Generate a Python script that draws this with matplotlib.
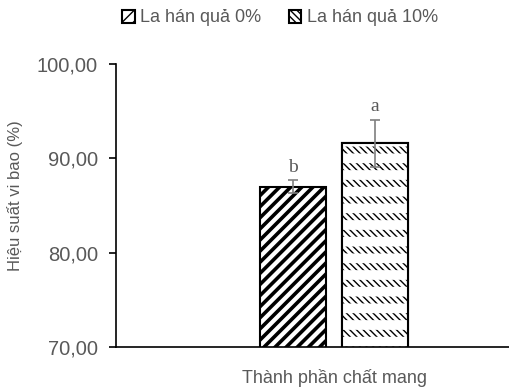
import matplotlib.pyplot as plt
import numpy as np

plt.rcParams['font.family'] = ['Liberation Sans', 'DejaVu Sans']

## du lieu
nhom = ['Thành phần chất mang']
ten = ['La hán quả 0%', 'La hán quả 10%']
gia_tri = [87.0, 91.6]
sai_so = [0.7, 2.5]
chu = ['b', 'a']

xam = '#595959'
hatch_ls = ['///', '\\\\\\\\\\']

fig = plt.figure(figsize=(5.09, 3.92), dpi=100)
ax = fig.add_axes([0.228, 0.115, 0.772, 0.722])

w = 0.33
lech = [-0.204, 0.204]
for i in range(2):
    x = 0 + lech[i]
    b = ax.bar(x, gia_tri[i], width=w, color='white', edgecolor='black',
               linewidth=1.5, hatch=hatch_ls[i], label=ten[i])
    for p in b:
        if hasattr(p, 'set_hatch_linewidth'):
            p.set_hatch_linewidth(2.6 if i == 0 else 1.0)
    if i == 1:
        # cat gach cheo thanh tung hang ngan
        b2 = ax.bar(x, gia_tri[i], width=w, color='none', edgecolor='white',
                    linewidth=0, hatch='-')
        for p in b2:
            if hasattr(p, 'set_hatch_linewidth'):
                p.set_hatch_linewidth(7)
        ax.bar(x, gia_tri[i], width=w, fill=False, edgecolor='black', linewidth=1.5)
    ax.errorbar(x, gia_tri[i], yerr=sai_so[i], fmt='none',
                ecolor='#7f7f7f', elinewidth=1.2, capsize=3.5, capthick=1.2)
    ax.annotate(chu[i], (x, gia_tri[i] + sai_so[i]), xytext=(0, 3),
                textcoords='offset points', ha='center', va='bottom',
                fontsize=14, color=xam, family=['Liberation Serif', 'DejaVu Serif'])

ax.set_ylim(70, 100)
ax.set_xlim(-1.089, 0.876)
ax.set_yticks([70, 80, 90, 100])
ax.set_yticklabels(['70,00', '80,00', '90,00', '100,00'])
ax.tick_params(axis='y', labelsize=14.5, labelcolor=xam, length=5, width=1.2,
               direction='out', pad=8)
ax.set_xticks([])
for s in ['top', 'right']:
    ax.spines[s].set_visible(False)
ax.spines['left'].set_linewidth(1.2)
ax.spines['bottom'].set_linewidth(1.2)

ax.set_ylabel('Hiệu suất vi bao (%)', fontsize=12, color=xam)
ax.yaxis.set_label_coords(-93 / 393, 0.535)
ax.set_xlabel(nhom[0], fontsize=13, color=xam)
ax.xaxis.set_label_coords((334 - 116) / 393, -22 / 283)

leg = fig.legend(loc='center', bbox_to_anchor=(280 / 509, 1 - 18 / 392), ncol=2,
                 frameon=False, fontsize=13, handlelength=0.7, handleheight=0.7,
                 handletextpad=0.3, columnspacing=1.5)
for t in leg.get_texts():
    t.set_color(xam)

fig.savefig('out.png', dpi=100)
